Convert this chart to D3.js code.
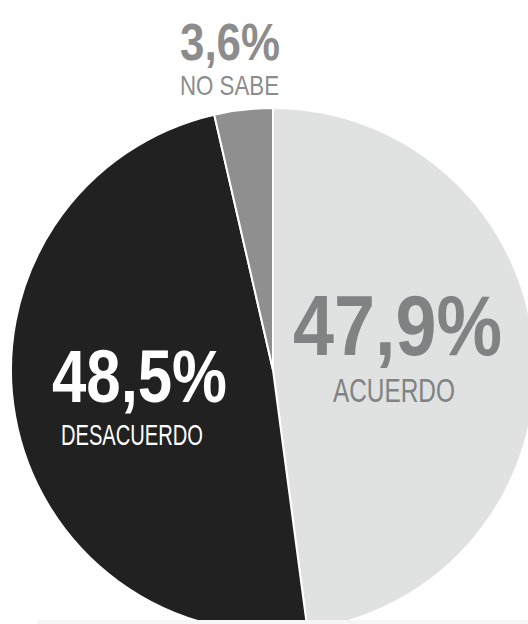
<!DOCTYPE html>
<html>
<head>
<meta charset="utf-8">
<script src="https://cdn.jsdelivr.net/npm/d3@7"></script>
<style>
  html, body { margin: 0; padding: 0; background: #ffffff; }
  svg { display: block; }
  text { font-family: 'Liberation Sans Narrow', 'Liberation Sans', Arial, sans-serif; }
</style>
</head>
<body>
<script>
// ---- data ----
const categories = ["ACUERDO", "DESACUERDO", "NO SABE"];
const values = [47.9, 48.5, 3.6];
const valueLabels = ["47,9%", "48,5%", "3,6%"];

// ---- styling / layout ----
const sliceColors = ["#e0e1e1", "#212121", "#8f8f8f"];
const W = 528, H = 624;
const cx = 273, cy = 370, R = 262;

// label layout: value text (x, baseline, size, width), category text (x, baseline, size, width)
const labelLayout = [
  {vx: 293, vy: 355, vs: 85, vw: 209, cx: 333, cy: 402, cs: 33, cw: 122, color: "#7f8383"},
  {vx: 52,  vy: 402, vs: 74, vw: 175, cx: 61,  cy: 445, cs: 29, cw: 142, color: "#ffffff"},
  {vx: 180, vy: 60,  vs: 52, vw: 100, cx: 180, cy: 95,  cs: 27.5, cw: 99, color: "#8c8c8c"}
];

const svg = d3.select("body").append("svg")
  .attr("width", W).attr("height", H);

const pie = d3.pie().sort(null).value(d => d)(values);
const arc = d3.arc().innerRadius(0).outerRadius(R);

const g = svg.append("g").attr("transform", `translate(${cx},${cy})`);
g.selectAll("path").data(pie).join("path")
  .attr("d", arc)
  .attr("fill", (d, i) => sliceColors[i])
  .attr("stroke", "#ffffff")
  .attr("stroke-width", 2)
  .attr("stroke-linejoin", "round");

// bottom light band
svg.append("rect")
  .attr("x", 37).attr("y", 620).attr("width", W - 37).attr("height", 4)
  .attr("fill", "#f6f6f6");

function fitText(str, x, y, size, width, color, bold) {
  const t = svg.append("text")
    .attr("x", 0).attr("y", 0)
    .attr("font-size", size)
    .attr("font-weight", bold ? "bold" : "normal")
    .attr("fill", color)
    .text(str);
  const len = t.node().getComputedTextLength() || width;
  const sx = width / len;
  t.attr("transform", `translate(${x},${y}) scale(${sx},1)`);
}

categories.forEach((c, i) => {
  const L = labelLayout[i];
  fitText(valueLabels[i], L.vx, L.vy, L.vs, L.vw, L.color, true);
  fitText(c, L.cx, L.cy, L.cs, L.cw, L.color, false);
});
</script>
</body>
</html>
